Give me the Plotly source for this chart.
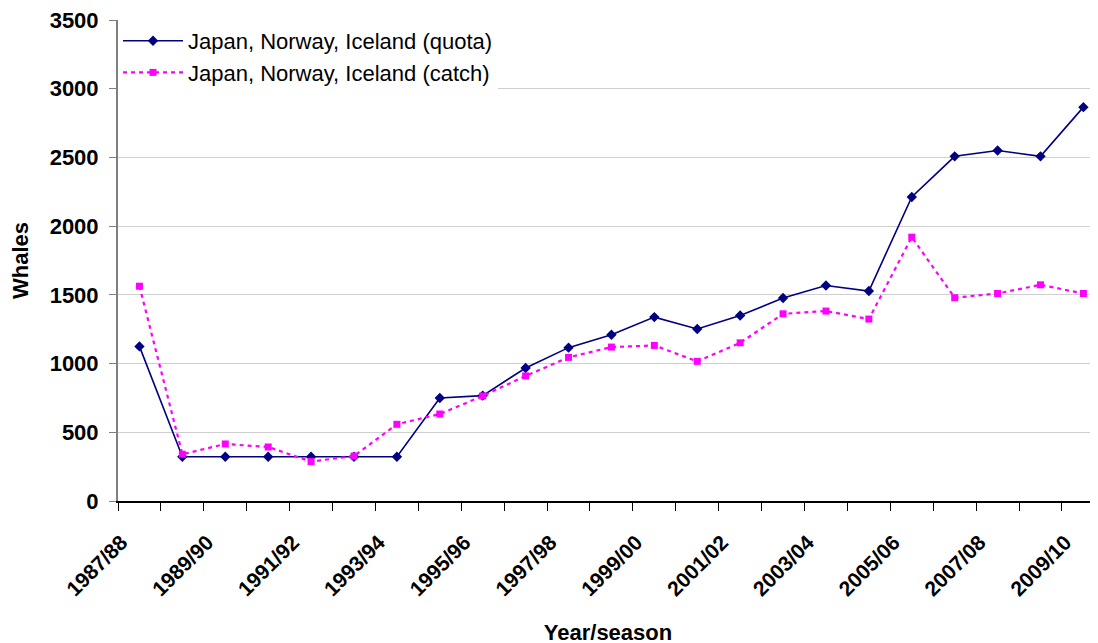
import plotly.graph_objects as go

seasons = ["1987/88", "1988/89", "1989/90", "1990/91", "1991/92", "1992/93",
           "1993/94", "1994/95", "1995/96", "1996/97", "1997/98", "1998/99",
           "1999/00", "2000/01", "2001/02", "2002/03", "2003/04", "2004/05",
           "2005/06", "2006/07", "2007/08", "2008/09", "2009/10"]

quota = [1125, 322, 322, 322, 322, 322, 322, 750, 767, 968, 1116, 1210,
         1338, 1252, 1350, 1477, 1568, 1528, 2212, 2508, 2550, 2508, 2866]

catch = [1563, 340, 415, 393, 287, 327, 558, 633, 764, 910, 1045, 1120,
         1132, 1016, 1151, 1362, 1382, 1324, 1920, 1479, 1510, 1573, 1510]

tick_labels = [s if i % 2 == 0 else "" for i, s in enumerate(seasons)]

FONT = "Liberation Sans, Arial, sans-serif"

fig = go.Figure()
fig.add_trace(go.Scatter(
    x=seasons, y=quota, mode="lines+markers",
    name="Japan, Norway, Iceland (quota)",
    line=dict(color="#000080", width=1.6),
    marker=dict(symbol="diamond", size=8, color="#000080"),
))
fig.add_trace(go.Scatter(
    x=seasons, y=catch, mode="lines+markers",
    name="Japan, Norway, Iceland (catch)",
    line=dict(color="#FF00FF", width=2.2, dash="4px,4px"),
    marker=dict(symbol="square", size=7, color="#FF00FF"),
))

fig.update_layout(
    width=1098, height=643,
    margin=dict(l=110, r=8, t=12, b=150),
    paper_bgcolor="white", plot_bgcolor="white",
    font=dict(family=FONT, color="black"),
    showlegend=True,
    legend=dict(
        x=0.0, y=1.0, xanchor="left", yanchor="top",
        bgcolor="white", borderwidth=0,
        font=dict(family=FONT, size=22, color="black"),
        itemwidth=60,
        tracegroupgap=0,
    ),
    xaxis=dict(
        type="category",
        categoryorder="array", categoryarray=seasons,
        range=[-0.5, 22.34],
        tickmode="array", tickvals=seasons, ticktext=tick_labels,
        tickson="boundaries",
        ticks="outside", ticklen=8, tickcolor="black", tickwidth=1,
        tickangle=-45,
        ticklabelstandoff=19, ticklabelshift=-18,
        tickfont=dict(family=FONT, size=21, weight="bold"),
        showline=True, linecolor="black", linewidth=1.5,
        showgrid=False, zeroline=False,
        title=dict(text="Year/season", font=dict(family=FONT, size=22, weight="bold"), standoff=25),
        automargin=False,
    ),
    yaxis=dict(
        range=[0, 3500.01],
        tickmode="array", tickvals=[0, 500, 1000, 1500, 2000, 2500, 3000, 3500],
        ticks="outside", ticklen=7, tickcolor="#808080", tickwidth=1,
        ticklabelstandoff=6, ticklabeloverflow="allow",
        tickfont=dict(family=FONT, size=22, weight="bold"),
        showline=True, linecolor="#808080", linewidth=2,
        showgrid=True, gridcolor="#cfcfcf", gridwidth=1,
        zeroline=False,
        title=dict(text="Whales", font=dict(family=FONT, size=22, weight="bold"), standoff=18),
        automargin=False,
    ),
)

fig.write_html("out.html")
